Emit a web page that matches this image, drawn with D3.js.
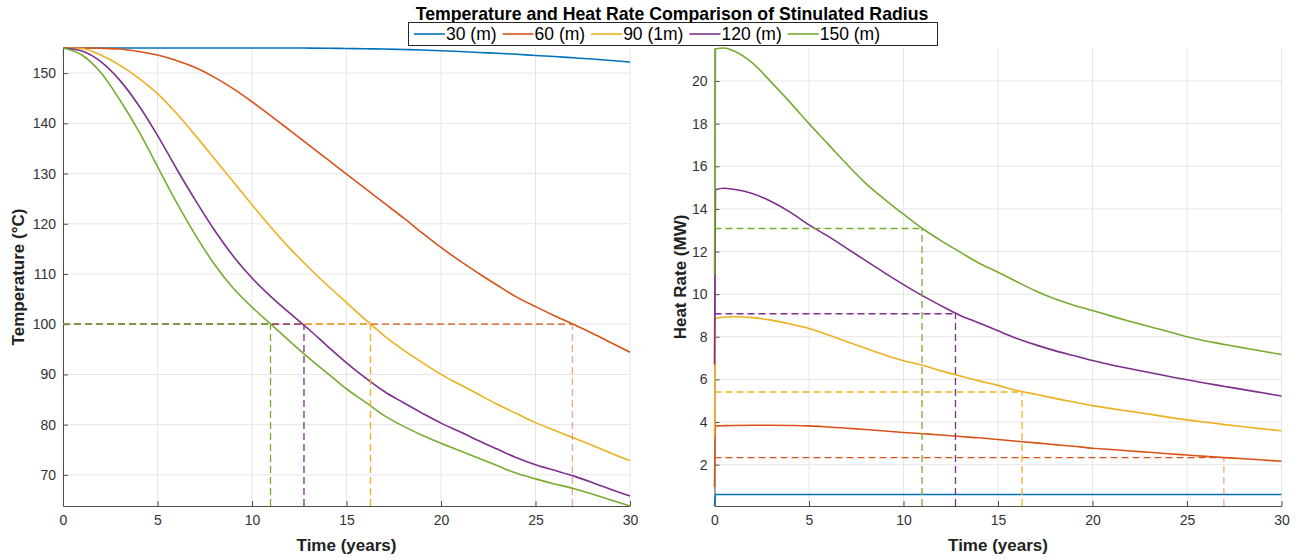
<!DOCTYPE html>
<html>
<head>
<meta charset="utf-8">
<script src="https://cdn.jsdelivr.net/npm/d3@7"></script>
<style>
  body { margin: 0; background: #fff; }
  text { font-family: "Liberation Sans", Arial, Helvetica, sans-serif; }
</style>
</head>
<body>
<svg id="chart" width="1299" height="560"></svg>
<script>
// series names + colours (matlab default order)
const seriesNames = ["30 (m)", "60 (m)", "90 (1m)", "120 (m)", "150 (m)"];
const seriesColors = ["#0072BD", "#D95319", "#EDB120", "#7E2F8E", "#77AC30"];

// temperature, yearly 0..30
const tempYears = d3.range(0, 31);
const temp30 = [155, 155, 155, 155, 155, 155, 155, 155, 155, 155, 155, 155, 155, 154.98, 154.95, 154.9, 154.85, 154.8, 154.7, 154.6, 154.45, 154.3, 154.1, 153.95, 153.75, 153.5, 153.3, 153.05, 152.8, 152.5, 152.2];
const temp60 = [155, 155, 154.95, 154.8, 154.3, 153.6, 152.5, 151.1, 149.2, 146.9, 144.3, 141.5, 138.6, 135.7, 132.8, 129.9, 127, 124.1, 121.2, 118.2, 115.3, 112.6, 110.1, 107.7, 105.4, 103.5, 101.7, 100, 98.2, 96.3, 94.4];
const temp90 = [155, 154.9, 153.6, 151.6, 149, 145.9, 142, 137.6, 133, 128.4, 123.8, 119.3, 115.1, 111.3, 107.7, 104.3, 100.9, 97.7, 94.9, 92.4, 90, 88, 86, 84, 82.2, 80.4, 78.9, 77.4, 75.9, 74.3, 72.8];
const temp120 = [155, 154.4, 152.3, 148.6, 143.6, 137.6, 131, 124.7, 118.8, 113.6, 109.2, 105.5, 102.2, 99, 95.6, 92.3, 89.3, 86.6, 84.4, 82.3, 80.3, 78.6, 76.8, 75.1, 73.4, 72, 70.9, 69.8, 68.5, 67.1, 65.8];
const temp150 = [155, 153.6, 150.1, 144.7, 138.5, 131.4, 124.3, 117.8, 112, 107.2, 103.4, 100, 96.6, 93.3, 90.2, 87.1, 84.5, 81.8, 79.7, 77.9, 76.3, 74.8, 73.3, 71.8, 70.3, 69.2, 68.2, 67.3, 66.2, 65, 63.8];

// heat rate, first sample jumps up right after t=0
const heatYears = [0, 0.05, 0.5].concat(d3.range(1, 31));
const heat30 = [0.06, 0.6, 0.6, 0.6, 0.6, 0.6, 0.6, 0.6, 0.6, 0.6, 0.6, 0.6, 0.6, 0.6, 0.6, 0.6, 0.6, 0.6, 0.6, 0.6, 0.6, 0.6, 0.6, 0.6, 0.6, 0.6, 0.6, 0.6, 0.6, 0.6, 0.6, 0.6, 0.6];
const heat60 = [0.95, 3.82, 3.83, 3.84, 3.85, 3.85, 3.84, 3.82, 3.77, 3.71, 3.65, 3.58, 3.51, 3.45, 3.39, 3.32, 3.26, 3.18, 3.1, 3.02, 2.94, 2.86, 2.77, 2.71, 2.64, 2.58, 2.51, 2.45, 2.39, 2.33, 2.28, 2.22, 2.16];
const heat90 = [3.3, 8.86, 8.92, 8.94, 8.9, 8.78, 8.6, 8.39, 8.1, 7.77, 7.46, 7.15, 6.88, 6.66, 6.4, 6.16, 5.93, 5.72, 5.48, 5.3, 5.11, 4.94, 4.77, 4.63, 4.5, 4.37, 4.23, 4.1, 3.99, 3.88, 3.78, 3.68, 3.59];
const heat120 = [6.7, 14.9, 14.97, 14.92, 14.72, 14.35, 13.85, 13.25, 12.72, 12.15, 11.57, 11.0, 10.45, 9.93, 9.45, 9.0, 8.65, 8.28, 7.92, 7.62, 7.35, 7.12, 6.89, 6.68, 6.5, 6.32, 6.15, 5.98, 5.82, 5.67, 5.52, 5.37, 5.22];
const heat150 = [10.9, 21.5, 21.55, 21.42, 20.85, 19.95, 19.0, 18.0, 17.05, 16.1, 15.2, 14.45, 13.75, 13.08, 12.5, 11.97, 11.45, 11.03, 10.58, 10.15, 9.78, 9.48, 9.23, 8.97, 8.72, 8.48, 8.25, 8.0, 7.8, 7.64, 7.48, 7.32, 7.17];

// where each radius drops to 100 degC (30 m never does)
const thresholdTemp = 100;
const crossYears = [null, 26.95, 16.27, 12.75, 10.98];
const crossHeat = [null, 2.33, 5.41, 9.08, 13.08];

const xTicks = [0, 5, 10, 15, 20, 25, 30];
const tempTicks = [70, 80, 90, 100, 110, 120, 130, 140, 150];
const heatTicks = [2, 4, 6, 8, 10, 12, 14, 16, 18, 20];

const tempSeries = [temp30, temp60, temp90, temp120, temp150];
const heatSeries = [heat30, heat60, heat90, heat120, heat150];

const svg = d3.select("#chart");
svg.append("rect").attr("width", 1299).attr("height", 560).attr("fill", "#fff");

const plotTop = 48, plotBottom = 506;

function buildPanel(left, right, times, series, ticks, yLabel, labelX, crossY) {
  let x = d3.scaleLinear().domain([0, 30]).range([left, right]);
  let all = series.flat();
  let y = d3.scaleLinear().domain(d3.extent(all)).range([plotBottom, plotTop]);

  let g = svg.append("g");

  // grid
  g.append("g").selectAll("line").data(xTicks).join("line")
    .attr("x1", d => x(d)).attr("x2", d => x(d))
    .attr("y1", plotTop).attr("y2", plotBottom)
    .attr("stroke", "#e6e6e6").attr("stroke-width", 1);
  g.append("g").selectAll("line").data(ticks).join("line")
    .attr("x1", left).attr("x2", right)
    .attr("y1", d => y(d)).attr("y2", d => y(d))
    .attr("stroke", "#e6e6e6").attr("stroke-width", 1);

  // axes (ticks point inward like matlab)
  let xAxis = g.append("g").attr("transform", `translate(0,${plotBottom})`)
    .call(d3.axisBottom(x).tickValues(xTicks).tickSizeInner(-5).tickSizeOuter(0).tickPadding(9));
  let yAxis = g.append("g").attr("transform", `translate(${left},0)`)
    .call(d3.axisLeft(y).tickValues(ticks).tickSizeInner(-5).tickSizeOuter(0).tickPadding(7));

  [xAxis, yAxis].forEach(a => {
    a.select(".domain").attr("stroke", "#4d4d4d");
    a.selectAll(".tick line").attr("stroke", "#4d4d4d");
    a.selectAll("text").attr("fill", "#333").style("font-size", "14px")
      .style("font-family", "'Liberation Sans', Arial, sans-serif");
  });

  let line = d3.line()
    .x((d, i) => x(times[i]))
    .y(d => y(d))
    .curve(d3.curveMonotoneX);

  g.append("g").selectAll("path").data(series).join("path")
    .attr("d", d => line(d))
    .attr("fill", "none")
    .attr("stroke", (d, i) => seriesColors[i])
    .attr("stroke-width", 1.6);

  // dashed guide lines
  let guides = g.append("g");
  series.forEach((s, i) => {
    if (crossYears[i] == null) return;
    let yv = crossY(i);
    guides.append("line")
      .attr("x1", x(0)).attr("x2", x(crossYears[i]))
      .attr("y1", y(yv)).attr("y2", y(yv))
      .attr("stroke", seriesColors[i]).attr("stroke-width", 1.3)
      .attr("stroke-dasharray", "7,4");
    guides.append("line")
      .attr("x1", x(crossYears[i])).attr("x2", x(crossYears[i]))
      .attr("y1", plotBottom).attr("y2", y(yv))
      .attr("stroke", seriesColors[i]).attr("stroke-width", 1.3)
      .attr("stroke-opacity", i === 1 ? 0.5 : 1)
      .attr("stroke-dasharray", "7,4");
  });

  // labels
  g.append("text")
    .attr("x", (left + right) / 2).attr("y", 551)
    .attr("text-anchor", "middle")
    .style("font-size", "17px").style("font-weight", "bold").attr("fill", "#222")
    .text("Time (years)");

  g.append("text")
    .attr("transform", `translate(${labelX},${(plotTop + plotBottom) / 2}) rotate(-90)`)
    .attr("text-anchor", "middle")
    .style("font-size", "17px").style("font-weight", "bold").attr("fill", "#222")
    .text(yLabel);
}

buildPanel(63, 630, tempYears, tempSeries, tempTicks, "Temperature (°C)", 24, i => thresholdTemp);
buildPanel(714.5, 1281.5, heatYears, heatSeries, heatTicks, "Heat Rate (MW)", 686, i => crossHeat[i]);

// title
svg.append("text")
  .attr("x", 672).attr("y", 20)
  .attr("text-anchor", "middle")
  .style("font-size", "17.7px").style("font-weight", "bold").attr("fill", "#000")
  .text("Temperature and Heat Rate Comparison of Stinulated Radius");

// legend
let legend = svg.append("g");
legend.append("rect")
  .attr("x", 408.5).attr("y", 22.5).attr("width", 529).attr("height", 23)
  .attr("fill", "#fff").attr("stroke", "#262626").attr("stroke-width", 1);

let lx = 414;
seriesNames.forEach((name, i) => {
  legend.append("line")
    .attr("x1", lx).attr("x2", lx + 31)
    .attr("y1", 34).attr("y2", 34)
    .attr("stroke", seriesColors[i]).attr("stroke-width", 1.6);
  let t = legend.append("text")
    .attr("x", lx + 32).attr("y", 40)
    .style("font-size", "17.5px").attr("fill", "#000")
    .text(name);
  lx += 32 + t.node().getComputedTextLength() + 6;
});
</script>
</body>
</html>
